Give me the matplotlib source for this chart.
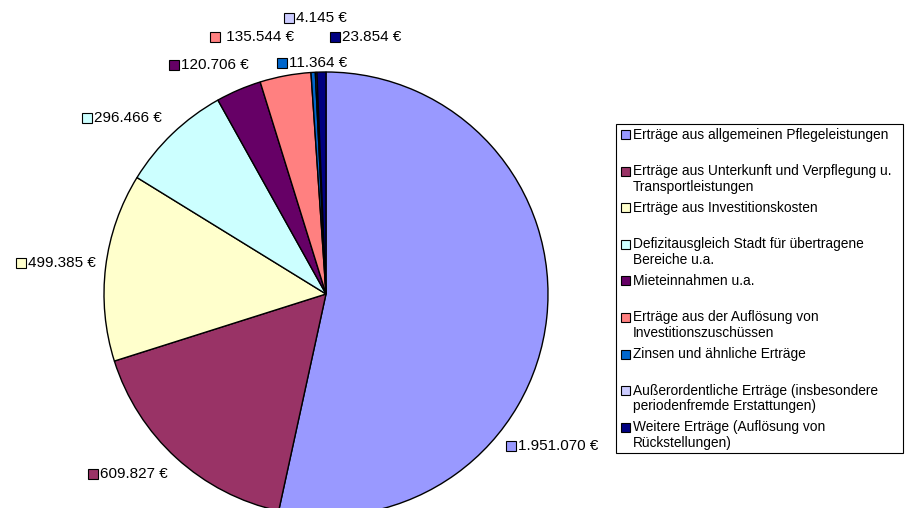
import matplotlib
matplotlib.use('Agg')
import matplotlib.pyplot as plt
from matplotlib.patches import Rectangle

W, H, DPI = 908, 508, 100
FONT = 'Liberation Sans'

categories = [
    'Erträge aus allgemeinen Pflegeleistungen',
    'Erträge aus Unterkunft und Verpflegung u.\nTransportleistungen',
    'Erträge aus Investitionskosten',
    'Defizitausgleich Stadt für übertragene\nBereiche u.a.',
    'Mieteinnahmen u.a.',
    'Erträge aus der Auflösung von\nInvestitionszuschüssen',
    'Zinsen und ähnliche Erträge',
    'Außerordentliche Erträge (insbesondere\nperiodenfremde Erstattungen)',
    'Weitere Erträge (Auflösung von\nRückstellungen)',
]
values = [1951070, 609827, 499385, 296466, 120706, 135544, 11364, 4145, 23854]
value_labels = ['1.951.070 €', '609.827 €', '499.385 €', '296.466 €', '120.706 €',
                ' 135.544 €', '11.364 €', '4.145 €', '23.854 €']
colors = ['#9999FF', '#993366', '#FFFFCC', '#CCFFFF', '#660066',
          '#FF8080', '#0066CC', '#CCCCFF', '#000080']

# label anchors (left edge of marker, centre y) in pixels, origin top-left
LABEL_POS = [(506, 446), (88, 474), (16, 263), (82, 118), (169, 65),
             (210, 37), (277, 63), (284, 18), (330, 37)]

CX, CY, R = 326, 294, 222


def fy(y):
    return H - y


fig = plt.figure(figsize=(W / DPI, H / DPI), dpi=DPI)
ax = fig.add_axes([0, 0, 1, 1])

ax.pie(values, colors=colors, startangle=90, counterclock=False,
       center=(CX, fy(CY)), radius=R,
       wedgeprops=dict(edgecolor='black', linewidth=1.0))
ax.set_xlim(0, W)
ax.set_ylim(0, H)
ax.set_aspect('equal')
ax.axis('off')

# data labels with colour key
SQ = 10
for (x, y), lab, c in zip(LABEL_POS, value_labels, colors):
    ax.add_patch(Rectangle((x, fy(y) - SQ / 2), SQ, SQ, facecolor=c,
                           edgecolor='black', linewidth=0.8, zorder=5))
    ax.text(x + SQ + 2, fy(y), lab, fontsize=11, fontfamily=FONT,
            va='center', ha='left', zorder=5)

# legend
LX0, LY0, LX1, LY1 = 616, 124, 903, 453
ax.add_patch(Rectangle((LX0, fy(LY1)), LX1 - LX0, LY1 - LY0, facecolor='white',
                       edgecolor='black', linewidth=0.8, zorder=4))
STEP, LINE = 36.6, 15.5
LSQ = 9
for i, (cat, c) in enumerate(zip(categories, colors)):
    y = 134.5 + i * STEP
    ax.add_patch(Rectangle((620.5, fy(y) - LSQ / 2), LSQ, LSQ, facecolor=c,
                           edgecolor='black', linewidth=0.8, zorder=5))
    for j, line in enumerate(cat.split('\n')):
        ax.text(633, fy(y + j * LINE), line, fontsize=9.95, fontfamily=FONT,
                va='center', ha='left', zorder=5)

fig.savefig('out.png', dpi=DPI, facecolor='white')
